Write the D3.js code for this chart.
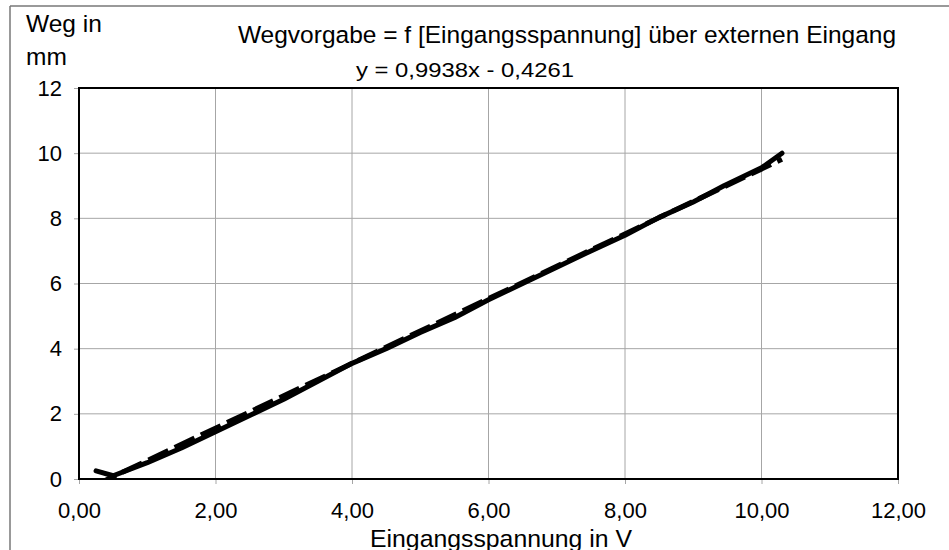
<!DOCTYPE html>
<html><head><meta charset="utf-8">
<script src="https://cdn.jsdelivr.net/npm/d3@7"></script>
<style>body{margin:0;background:#fff}svg{display:block;font-family:"Liberation Sans",Arial,sans-serif}</style>
</head><body>
<svg id="c" width="949" height="550"></svg>
<script>
const voltage = [0.25,0.5,1.0,1.5,2.0,2.5,3.0,3.5,4.0,4.5,5.0,5.5,6.0,6.5,7.0,7.5,8.0,8.5,9.0,9.45,10.0,10.3];
const travel  = [0.25,0.1,0.5,0.95,1.45,1.95,2.45,3.0,3.55,4.0,4.5,4.95,5.5,6.0,6.5,7.0,7.48,8.03,8.5,9.0,9.55,10.0];
const trendSlope = 0.9938, trendIntercept = -0.4261;
const xTicks = [0,2,4,6,8,10,12];
const yTicks = [0,2,4,6,8,10,12];
const titleText = "Wegvorgabe = f [Eingangsspannung] über externen Eingang";
const equationText = "y = 0,9938x - 0,4261";
const yTitleLines = ["Weg in","mm"];
const xTitle = "Eingangsspannung in V";

const svg = d3.select("#c");
const L=79,R=898,T=88,B=479;
const x = d3.scaleLinear().domain([0,12]).range([L,R]);
const y = d3.scaleLinear().domain([0,12]).range([B,T]);

// outer border
svg.append("line").attr("x1",10).attr("x2",10).attr("y1",6).attr("y2",550).attr("stroke","#777").attr("stroke-width",1.5);
svg.append("line").attr("x1",10).attr("x2",949).attr("y1",6).attr("y2",6).attr("stroke","#777").attr("stroke-width",1.5);

// grid
const g = svg.append("g");
g.selectAll(".vg").data(xTicks.slice(1,-1)).join("line").attr("x1",d=>x(d)).attr("x2",d=>x(d)).attr("y1",T).attr("y2",B).attr("stroke","#a6a6a6").attr("stroke-width",1);
g.selectAll(".hg").data(yTicks.slice(1,-1)).join("line").attr("x1",L).attr("x2",R).attr("y1",d=>y(d)).attr("y2",d=>y(d)).attr("stroke","#a6a6a6").attr("stroke-width",1);

// axes with ticks
const xa = svg.append("g").attr("transform",`translate(0,${B})`).call(d3.axisBottom(x).tickValues(xTicks).tickSize(5).tickPadding(18).tickFormat(d=>d3.format(".2f")(d).replace(".",",")));
const ya = svg.append("g").attr("transform",`translate(${L},0)`).call(d3.axisLeft(y).tickValues(yTicks).tickSize(5).tickPadding(12).tickFormat(d=>d));
[xa,ya].forEach(a=>{a.select(".domain").remove();a.selectAll(".tick line").attr("stroke","#a6a6a6");a.selectAll("text").attr("font-size",22).attr("fill","#000").attr("font-family","Liberation Sans, Arial, sans-serif");});

// plot border
svg.append("rect").attr("x",L).attr("y",T).attr("width",R-L).attr("height",B-T).attr("fill","none").attr("stroke","#000").attr("stroke-width",2);

// clip
svg.append("clipPath").attr("id","pc").append("rect").attr("x",L).attr("y",T-10).attr("width",R-L).attr("height",B-T+10);

const pts = voltage.map((v,i)=>[v,travel[i]]);
const line = d3.line().x(d=>x(d[0])).y(d=>y(d[1]));
svg.append("path").datum(pts).attr("d",line).attr("fill","none").attr("stroke","#000").attr("stroke-width",5).attr("stroke-linejoin","round").attr("stroke-linecap","round").attr("clip-path","url(#pc)");

const x0 = d3.min(voltage), x1 = d3.max(voltage);
const trend = [[x0,trendSlope*x0+trendIntercept],[x1,trendSlope*x1+trendIntercept]];
svg.append("clipPath").attr("id","pc2").append("rect").attr("x",L).attr("y",T).attr("width",R-L).attr("height",B-T);
svg.append("path").datum(trend).attr("d",line).attr("fill","none").attr("stroke","#000").attr("stroke-width",5).attr("stroke-dasharray","22,7").attr("clip-path","url(#pc2)");

// texts
svg.append("text").attr("x",567).attr("y",43).attr("text-anchor","middle").attr("font-size",24.5).text(titleText);
svg.append("text").attr("x",465).attr("y",77).attr("text-anchor","middle").attr("font-size",20).attr("textLength",218).attr("lengthAdjust","spacingAndGlyphs").text(equationText);
svg.append("text").attr("x",26).attr("y",32).attr("font-size",24.5).text(yTitleLines[0]);
svg.append("text").attr("x",26).attr("y",65).attr("font-size",24.5).text(yTitleLines[1]);
svg.append("text").attr("x",501).attr("y",547).attr("text-anchor","middle").attr("font-size",24.8).text(xTitle);
</script>
</body></html>
